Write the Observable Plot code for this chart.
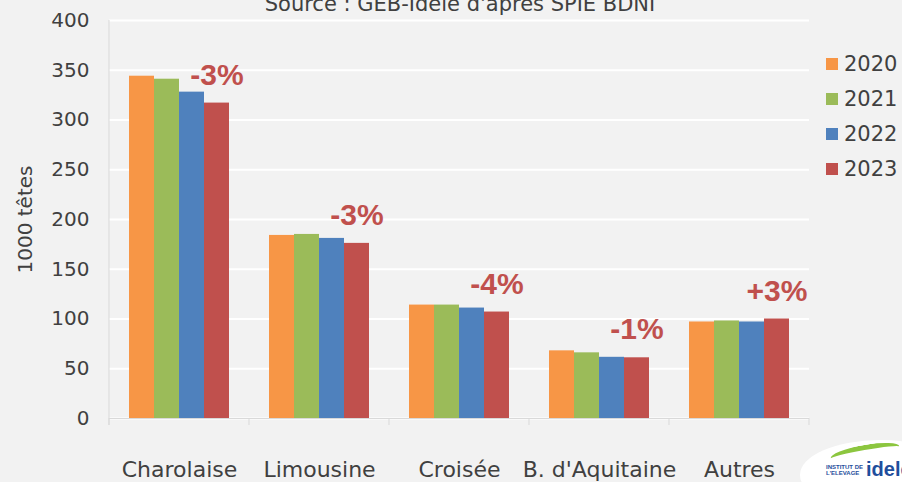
<!DOCTYPE html>
<html><head><meta charset="utf-8">
<script src="https://cdn.jsdelivr.net/npm/d3@7"></script>
<script src="https://cdn.jsdelivr.net/npm/@observablehq/plot@0.6"></script>
<style>
html,body{margin:0;padding:0;background:#f2f2f2;}
#wrap{position:relative;width:902px;height:482px;overflow:hidden;font-family:"DejaVu Sans",sans-serif;color:#404040;}
#title{position:absolute;left:0;width:920px;text-align:center;top:-9px;font-size:21px;line-height:26px;color:#404040;white-space:nowrap;}
#legend{position:absolute;left:826px;top:46px;}
.li{display:flex;align-items:center;height:35px;font-size:21px;color:#404040;}
.sw{width:12px;height:12px;margin-right:6px;}
#logo{position:absolute;left:800px;top:440px;width:160px;height:70px;background:#fff;border-radius:50%;}
#logo .t{position:absolute;left:26px;top:24px;font-size:6px;line-height:6px;color:#1f4e9c;font-weight:bold;font-family:"Liberation Sans",sans-serif;}
#logo .i{position:absolute;left:66px;top:18px;font-size:20px;color:#1f4e9c;font-weight:bold;font-family:"Liberation Sans",sans-serif;}
#logo .g{position:absolute;left:30px;top:5px;width:70px;height:10px;border-top:5px solid #8cc63f;border-radius:50%;transform:rotate(-10deg);}
</style></head>
<body><div id="wrap"><div id="title">Source : GEB-Idele d'après SPIE BDNI</div><div id="legend"></div>
<div id="logo"><div class="g"></div><div class="t">INSTITUT DE<br>L'ELEVAGE</div><div class="i">idele</div></div></div>
<script>
const categories = ["Charolaise", "Limousine", "Croisée", "B. d'Aquitaine", "Autres"];
const years = ["2020", "2021", "2022", "2023"];
const v2020 = [344, 184, 114, 68, 97];
const v2021 = [341, 185, 114, 66, 98];
const v2022 = [328, 181, 111, 61.5, 97];
const v2023 = [317, 176, 107, 61, 100];
const changes = ["-3%", "-3%", "-4%", "-1%", "+3%"];
const colors = ["#f79646", "#9bbb59", "#4f81bd", "#c0504d"];
const yTicks = [0, 50, 100, 150, 200, 250, 300, 350, 400];

const series = [v2020, v2021, v2022, v2023];
const data = [];
categories.forEach((c, i) => years.forEach((y, j) => data.push({cat: c, year: y, value: series[j][i]})));
const ann = categories.map((c, i) => ({cat: c, year: "2023", value: v2023[i], label: changes[i]}));

const chart = Plot.plot({
  width: 902, height: 482,
  marginLeft: 107, marginRight: 92, marginTop: 20, marginBottom: 64,
  style: {background: "transparent", fontFamily: "DejaVu Sans", color: "#404040"},
  fx: {domain: categories, paddingInner: 0, paddingOuter: 0, label: null},
  x: {domain: years, paddingInner: 0, paddingOuter: 0.76, axis: null},
  y: {domain: [0, 400], ticks: yTicks},
  color: {domain: years, range: colors},
  marks: [
    Plot.gridY(yTicks, {stroke: "#ffffff", strokeOpacity: 1, strokeWidth: 2}),
    Plot.barY(data, {fx: "cat", x: "year", y: "value", fill: "year", inset: 0}),
    Plot.ruleY([0], {stroke: "#d9d9d9"}),
    Plot.text(ann, {fx: "cat", x: "year", y: "value", text: "label", dy: -28, fontSize: 30, fontWeight: "bold", fontFamily: "Liberation Sans", fill: "#c0504d", lineAnchor: "middle"}),
    Plot.axisY({ticks: yTicks, tickSize: 0, tickPadding: 20, fontSize: 20, label: "1000 têtes", labelAnchor: "center", labelArrow: "none", labelOffset: 92}),
    Plot.axisFx({anchor: "bottom", tickSize: 0, tickPadding: 43, fontSize: 22, label: null})
  ]
});
document.getElementById("wrap").appendChild(chart);
chart.style.position = "absolute"; chart.style.left = "0"; chart.style.top = "0";

// axis line and category separators using library scales
const fx = chart.scale("fx"), ys = chart.scale("y");
const svg = d3.select(chart);
const x0 = fx.apply(categories[0]);
const bounds = categories.map(c => fx.apply(c)).concat([fx.apply(categories[categories.length - 1]) + fx.bandwidth]);
const yb = ys.apply(0), yt = ys.apply(400);
svg.append("line").attr("x1", x0).attr("x2", x0).attr("y1", yt).attr("y2", yb + 7).attr("stroke", "#d9d9d9");
bounds.forEach(b => svg.append("line").attr("x1", b).attr("x2", b).attr("y1", yb).attr("y2", yb + 7).attr("stroke", "#d9d9d9"));

const leg = d3.select("#legend");
years.forEach((y, i) => {
  const r = leg.append("div").attr("class", "li");
  r.append("div").attr("class", "sw").style("background", colors[i]);
  r.append("span").text(y);
});
</script></body></html>
